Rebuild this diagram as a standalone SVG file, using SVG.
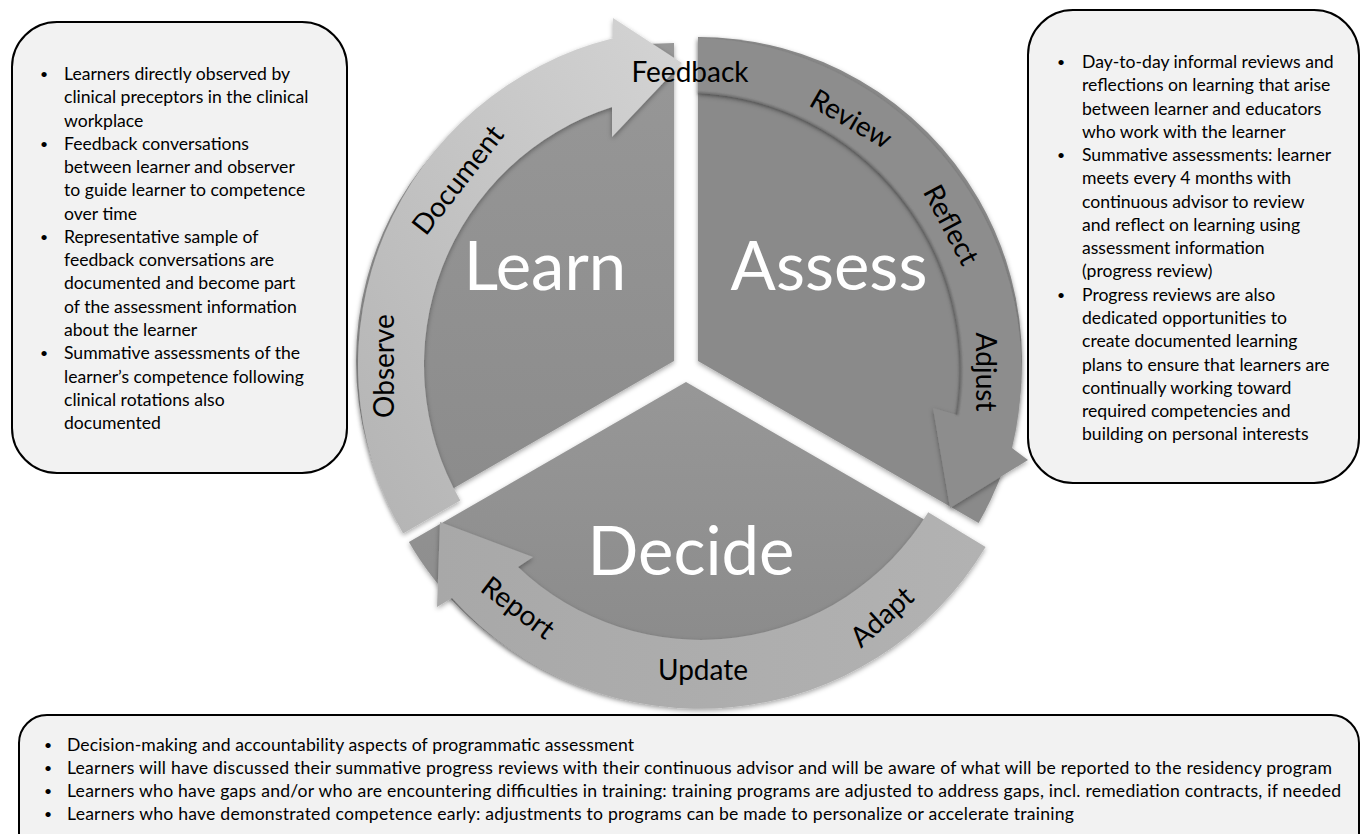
<svg xmlns="http://www.w3.org/2000/svg" width="1362" height="834" viewBox="0 0 1362 834">
  <defs>
    <style>
      .box { fill: #f2f2f2; stroke: #000; stroke-width: 2; }
      .body { font-family: Lato, "Liberation Sans", sans-serif; font-size: 17.6px; fill: #000; }
      .body .dot { font-size: 14px; }
      .step { font-family: Lato, "Liberation Sans", sans-serif; font-size: 28px; fill: #000; text-anchor: middle; }
      .phase { font-family: Lato, "Liberation Sans", sans-serif; font-size: 67px; fill: #fff; text-anchor: middle; }
    </style>
    <filter id="soft" x="-10%" y="-10%" width="120%" height="120%">
      <feDropShadow dx="0" dy="2" stdDeviation="2.5" flood-color="#000" flood-opacity="0.35"/>
    </filter>
    <filter id="blur1" x="-5%" y="-5%" width="110%" height="110%">
      <feGaussianBlur stdDeviation="1"/>
    </filter>
    <linearGradient id="gLearn" x1="0" y1="0" x2="0" y2="1">
      <stop offset="0" stop-color="#979797"/>
      <stop offset="1" stop-color="#8b8b8b"/>
    </linearGradient>
    <linearGradient id="gDecide" x1="0" y1="0" x2="0" y2="1">
      <stop offset="0" stop-color="#979797"/>
      <stop offset="1" stop-color="#898989"/>
    </linearGradient>
    <linearGradient id="gLearnArrow" x1="1" y1="0" x2="0" y2="1">
      <stop offset="0" stop-color="#d4d4d4"/>
      <stop offset="1" stop-color="#b3b3b3"/>
    </linearGradient>
    <linearGradient id="gDecideArrow" x1="1" y1="0" x2="0" y2="0">
      <stop offset="0" stop-color="#b2b2b2"/>
      <stop offset="1" stop-color="#a8a8a8"/>
    </linearGradient>
  </defs>

  <rect width="1362" height="834" fill="#fff"/>

  <!-- pie segments -->
  <g id="learn" filter="url(#soft)">
    <path d="M674,361 L398.6,520 A318,318 0 0 1 674,43 Z" fill="url(#gLearn)"/>
  </g>
  <g id="assess" filter="url(#soft)">
    <path d="M698,361 L698,37 A324,324 0 0 1 978.6,523 Z" fill="#8a8a8a"/>
  </g>
  <g id="decide" filter="url(#soft)">
    <path d="M686,382 L963.1,542 A320,320 0 0 1 408.9,542 Z" fill="url(#gDecide)"/>
  </g>

  <!-- circular arrows between the phases -->
  <g id="connectors">
    <path id="arrow-learn" filter="url(#soft)" fill="url(#gLearnArrow)"
          d="M403.1,533.5 A337,337 0 0 1 613,38.2 L613,18 L682,63 L612,137 L612,107 A271,271 0 0 0 460.3,500.5 Z"/>
    <path id="arrow-assess" filter="url(#soft)" fill="#8d8d8d"
          d="M698,38 A332,332 0 0 1 1012,448 L1028,460 L950,508 L933,408 L957,415 A277,277 0 0 0 698,93 Z"/>
    <path d="M698,93 A277,277 0 0 1 957,415" fill="none" stroke="#4a4a4a" stroke-width="2" opacity="0.6" filter="url(#blur1)"/>
    <path id="arrow-decide" filter="url(#soft)" fill="url(#gDecideArrow)"
          d="M985.6,547 A333,333 0 0 1 452,598 L437,607 L440,522 L533,557 L518,567 A266,266 0 0 0 928.2,512.2 Z"/>
  </g>

  <!-- step labels along the arrows -->
  <g id="step-labels">
    <text class="step" x="690" y="82">Feedback</text>
    <text class="step" transform="translate(851,119) rotate(30)" y="9.5">Review</text>
    <text class="step" transform="translate(951,225) rotate(62)" y="9.5">Reflect</text>
    <text class="step" transform="translate(985,372) rotate(90)" y="9.5">Adjust</text>
    <text class="step" transform="translate(882,617) rotate(-42)" y="9.5">Adapt</text>
    <text class="step" x="703" y="680">Update</text>
    <text class="step" transform="translate(518,608) rotate(37)" y="9.5">Report</text>
    <text class="step" transform="translate(384,366) rotate(-90)" y="9.5">Observe</text>
    <text class="step" transform="translate(458,180) rotate(-52)" y="9.5">Document</text>
  </g>

  <!-- phase titles -->
  <g id="phase-labels">
    <text class="phase" x="545" y="290">Learn</text>
    <text class="phase" x="829" y="290">Assess</text>
    <text class="phase" x="691" y="575">Decide</text>
  </g>

  <!-- Learn notes -->
  <g id="note-learn">
    <rect class="box" x="12" y="22" width="335" height="451" rx="45"/>
    <g class="body">
      <text class="dot" x="40" y="79">•</text>
      <text x="64" y="80">Learners directly observed by</text>
      <text x="64" y="103.3">clinical preceptors in the clinical</text>
      <text x="64" y="126.5">workplace</text>
      <text class="dot" x="40" y="148.8">•</text>
      <text x="64" y="149.8">Feedback conversations</text>
      <text x="64" y="173.1">between learner and observer</text>
      <text x="64" y="196.4">to guide learner to competence</text>
      <text x="64" y="219.6">over time</text>
      <text class="dot" x="40" y="241.9">•</text>
      <text x="64" y="242.9">Representative sample of</text>
      <text x="64" y="266.2">feedback conversations are</text>
      <text x="64" y="289.4">documented and become part</text>
      <text x="64" y="312.7">of the assessment information</text>
      <text x="64" y="336">about the learner</text>
      <text class="dot" x="40" y="358.2">•</text>
      <text x="64" y="359.2">Summative assessments of the</text>
      <text x="64" y="382.5">learner’s competence following</text>
      <text x="64" y="405.8">clinical rotations also</text>
      <text x="64" y="429">documented</text>
    </g>
  </g>

  <!-- Assess notes -->
  <g id="note-assess">
    <rect class="box" x="1028" y="10" width="331" height="473" rx="45"/>
    <g class="body">
      <text class="dot" x="1057" y="67">•</text>
      <text x="1082" y="68">Day-to-day informal reviews and</text>
      <text x="1082" y="91.3">reflections on learning that arise</text>
      <text x="1082" y="114.5">between learner and educators</text>
      <text x="1082" y="137.8">who work with the learner</text>
      <text class="dot" x="1057" y="160.1">•</text>
      <text x="1082" y="161.1">Summative assessments: learner</text>
      <text x="1082" y="184.4">meets every 4 months with</text>
      <text x="1082" y="207.6">continuous advisor to review</text>
      <text x="1082" y="230.9">and reflect on learning using</text>
      <text x="1082" y="254.2">assessment information</text>
      <text x="1082" y="277.4">(progress review)</text>
      <text class="dot" x="1057" y="299.7">•</text>
      <text x="1082" y="300.7">Progress reviews are also</text>
      <text x="1082" y="324">dedicated opportunities to</text>
      <text x="1082" y="347.2">create documented learning</text>
      <text x="1082" y="370.5">plans to ensure that learners are</text>
      <text x="1082" y="393.8">continually working toward</text>
      <text x="1082" y="417">required competencies and</text>
      <text x="1082" y="440.3">building on personal interests</text>
    </g>
  </g>

  <!-- Decide notes -->
  <g id="note-decide">
    <rect class="box" x="19" y="715" width="1340" height="150" rx="28"/>
    <g class="body">
      <text class="dot" x="44" y="750">•</text>
      <text x="67" y="751" textLength="567">Decision-making and accountability aspects of programmatic assessment</text>
      <text class="dot" x="44" y="773">•</text>
      <text x="67" y="774" textLength="1265">Learners will have discussed their summative progress reviews with their continuous advisor and will be aware of what will be reported to the residency program</text>
      <text class="dot" x="44" y="796">•</text>
      <text x="67" y="797" textLength="1274">Learners who have gaps and/or who are encountering difficulties in training: training programs are adjusted to address gaps, incl. remediation contracts, if needed</text>
      <text class="dot" x="44" y="819">•</text>
      <text x="67" y="820" textLength="1007">Learners who have demonstrated competence early: adjustments to programs can be made to personalize or accelerate training</text>
    </g>
  </g>
</svg>
